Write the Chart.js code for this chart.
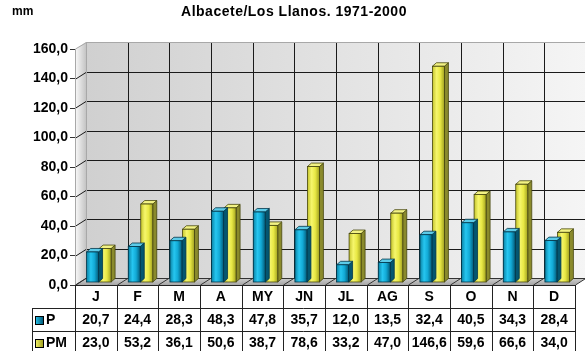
<!DOCTYPE html>
<html>
<head>
<meta charset="utf-8">
<script src="https://cdn.jsdelivr.net/npm/chart.js@4.4.1/dist/chart.umd.min.js"></script>
<style>
  html, body { margin: 0; padding: 0; background: #fff; }
  #chart { display: block; }
</style>
</head>
<body>
<canvas id="chart" width="585" height="351"></canvas>
<script>
const months = ['J', 'F', 'M', 'A', 'MY', 'JN', 'JL', 'AG', 'S', 'O', 'N', 'D'];
const seriesP = [20.7, 24.4, 28.3, 48.3, 47.8, 35.7, 12.0, 13.5, 32.4, 40.5, 34.3, 28.4];
const seriesPM = [23.0, 53.2, 36.1, 50.6, 38.7, 78.6, 33.2, 47.0, 146.6, 59.6, 66.6, 34.0];
const seriesNames = ['P', 'PM'];
const yMax = 160;
const yStep = 20;

const FONT = 'bold 14px "Liberation Sans", Arial, sans-serif';
const fmt = v => v.toFixed(1).replace('.', ',');

// 3D depth of the walls and of the bars
const WALL_DX = 11, WALL_DY = -7;
const BAR_DX = 4, BAR_DY = -3.5;
const BAR_SHIFT_X = 3, BAR_SHIFT_Y = -2.5;

const barStyles = [
  { stops: ['#0a82a4', '#26c6f0', '#12aad6', '#035c7a'], side: '#045670', top: '#5ccbe8', edge: '#02364a' },
  { stops: ['#c4c42c', '#f6f66c', '#e8e844', '#a2a220'], side: '#8a8a2c', top: '#f2f284', edge: '#46460e' }
];

const scenePlugin = {
  id: 'scene',
  beforeDatasetsDraw(chart) {
    const ctx = chart.ctx;
    const a = chart.chartArea;
    const y = chart.scales.y;
    const catW = (a.right - a.left) / months.length;
    ctx.save();

    // back wall
    const wg = ctx.createLinearGradient(a.left + WALL_DX, 0, a.right + WALL_DX, 0);
    wg.addColorStop(0, '#d0d0d0');
    wg.addColorStop(1, '#f5f5f5');
    ctx.fillStyle = wg;
    ctx.fillRect(a.left + WALL_DX, a.top + WALL_DY, a.right - a.left, a.bottom - a.top);

    // left wall
    const lg = ctx.createLinearGradient(a.left, 0, a.left + WALL_DX, 0);
    lg.addColorStop(0, '#fafafa');
    lg.addColorStop(1, '#c4c4c4');
    ctx.fillStyle = lg;
    ctx.beginPath();
    ctx.moveTo(a.left, a.top);
    ctx.lineTo(a.left + WALL_DX, a.top + WALL_DY);
    ctx.lineTo(a.left + WALL_DX, a.bottom + WALL_DY);
    ctx.lineTo(a.left, a.bottom);
    ctx.closePath();
    ctx.fill();

    // floor
    const fg = ctx.createLinearGradient(0, a.bottom + WALL_DY, 0, a.bottom);
    fg.addColorStop(0, '#cfcfcf');
    fg.addColorStop(1, '#a6a6a6');
    ctx.fillStyle = fg;
    ctx.beginPath();
    ctx.moveTo(a.left, a.bottom);
    ctx.lineTo(a.right, a.bottom);
    ctx.lineTo(a.right + WALL_DX, a.bottom + WALL_DY);
    ctx.lineTo(a.left + WALL_DX, a.bottom + WALL_DY);
    ctx.closePath();
    ctx.fill();

    // horizontal grid lines on back wall + left wall
    ctx.lineWidth = 1;
    for (let v = yStep; v < yMax; v += yStep) {
      const py = Math.round(y.getPixelForValue(v)) + 0.5;
      ctx.strokeStyle = '#1a1a1a';
      ctx.beginPath();
      ctx.moveTo(a.left + WALL_DX, py + WALL_DY);
      ctx.lineTo(a.right + WALL_DX, py + WALL_DY);
      ctx.moveTo(a.left, py);
      ctx.lineTo(a.left + WALL_DX, py + WALL_DY);
      ctx.stroke();
    }

    // vertical grid lines on back wall and floor
    ctx.strokeStyle = '#1a1a1a';
    for (let i = 1; i < months.length; i++) {
      const px = Math.round(a.left + i * catW) + 0.5;
      ctx.beginPath();
      ctx.moveTo(px + WALL_DX, a.top + WALL_DY);
      ctx.lineTo(px + WALL_DX, a.bottom + WALL_DY);
      ctx.stroke();
    }
    for (let i = 0; i <= months.length; i++) {
      const px = Math.round(a.left + i * catW) + 0.5;
      ctx.strokeStyle = '#333';
      ctx.beginPath();
      ctx.moveTo(px, a.bottom);
      ctx.lineTo(px + WALL_DX, a.bottom + WALL_DY);
      ctx.stroke();
    }

    // wall outlines
    ctx.strokeStyle = '#a8a8a8';
    ctx.beginPath();
    ctx.moveTo(a.left + 0.5, a.bottom);
    ctx.lineTo(a.left + 0.5, a.top);
    ctx.lineTo(a.left + WALL_DX + 0.5, a.top + WALL_DY + 0.5);
    ctx.lineTo(a.right + WALL_DX, a.top + WALL_DY + 0.5);
    ctx.moveTo(a.left + WALL_DX + 0.5, a.top + WALL_DY);
    ctx.lineTo(a.left + WALL_DX + 0.5, a.bottom + WALL_DY);
    ctx.stroke();
    ctx.strokeStyle = '#333';
    ctx.beginPath();
    ctx.moveTo(a.left, a.bottom + 0.5);
    ctx.lineTo(a.left + WALL_DX, a.bottom + WALL_DY + 0.5);
    ctx.lineTo(a.right + WALL_DX, a.bottom + WALL_DY + 0.5);
    ctx.stroke();

    ctx.restore();
  },

  beforeDatasetDraw(chart, args) {
    const ctx = chart.ctx;
    const st = barStyles[args.index];
    ctx.save();
    args.meta.data.forEach(bar => {
      const w = bar.width;
      const x0 = bar.x - w / 2 + BAR_SHIFT_X;
      const x1 = x0 + w;
      const top = bar.y + BAR_SHIFT_Y;
      const base = bar.base + BAR_SHIFT_Y;
      // side face
      ctx.fillStyle = st.side;
      ctx.beginPath();
      ctx.moveTo(x1, base);
      ctx.lineTo(x1, top);
      ctx.lineTo(x1 + BAR_DX, top + BAR_DY);
      ctx.lineTo(x1 + BAR_DX, base + BAR_DY);
      ctx.closePath();
      ctx.fill();
      ctx.strokeStyle = st.edge;
      ctx.lineWidth = 0.8;
      ctx.stroke();
      // top face
      ctx.fillStyle = st.top;
      ctx.beginPath();
      ctx.moveTo(x0, top);
      ctx.lineTo(x0 + BAR_DX, top + BAR_DY);
      ctx.lineTo(x1 + BAR_DX, top + BAR_DY);
      ctx.lineTo(x1, top);
      ctx.closePath();
      ctx.fill();
      ctx.stroke();
      // front face
      const g = ctx.createLinearGradient(x0, 0, x1, 0);
      g.addColorStop(0, st.stops[0]);
      g.addColorStop(0.35, st.stops[1]);
      g.addColorStop(0.65, st.stops[2]);
      g.addColorStop(1, st.stops[3]);
      ctx.fillStyle = g;
      ctx.fillRect(x0, top, w, base - top);
      ctx.strokeRect(x0, top, w, base - top);
    });
    ctx.restore();
    return false;
  },

  afterDraw(chart) {
    const ctx = chart.ctx;
    const a = chart.chartArea;
    const catW = (a.right - a.left) / months.length;
    ctx.save();

    // titles
    ctx.fillStyle = '#000';
    ctx.textBaseline = 'middle';
    ctx.font = 'bold 12px "Liberation Sans", Arial, sans-serif';
    ctx.textAlign = 'left';
    ctx.fillText('mm', 12, 12);
    ctx.font = 'bold 14px "Liberation Sans", Arial, sans-serif';
    ctx.letterSpacing = '0.5px';
    ctx.textAlign = 'center';
    ctx.fillText('Albacete/Los Llanos. 1971-2000', 294, 12);
    ctx.letterSpacing = '0px';

    // data table
    const rowH = 23;
    const labelLeft = 32;
    const top = a.bottom;
    ctx.fillStyle = '#fff';
    ctx.fillRect(a.left, top + 1, a.right - a.left, rowH);
    ctx.fillRect(labelLeft, top + rowH, a.right - labelLeft, rowH * 2);
    ctx.strokeStyle = '#222';
    ctx.lineWidth = 1;
    ctx.beginPath();
    for (let r = 0; r <= 3; r++) {
      const py = Math.round(top + r * rowH) + 0.5;
      ctx.moveTo(r === 0 ? a.left : labelLeft, py);
      ctx.lineTo(a.right, py);
    }
    for (let i = 0; i <= months.length; i++) {
      const px = Math.round(a.left + i * catW) + 0.5;
      ctx.moveTo(px, top);
      ctx.lineTo(px, top + rowH * 3);
    }
    ctx.moveTo(labelLeft + 0.5, top + rowH);
    ctx.lineTo(labelLeft + 0.5, top + rowH * 3);
    ctx.stroke();

    ctx.font = FONT;
    ctx.fillStyle = '#000';
    ctx.textAlign = 'center';
    months.forEach((m, i) => {
      ctx.fillText(m, a.left + (i + 0.5) * catW, top + rowH / 2 + 1);
    });
    [seriesP, seriesPM].forEach((vals, r) => {
      const cy = top + rowH * (r + 1.5) + 1;
      vals.forEach((v, i) => {
        ctx.fillStyle = '#000';
        ctx.fillText(fmt(v), a.left + (i + 0.5) * catW, cy);
      });
      // legend key
      const st = barStyles[r];
      const g = ctx.createLinearGradient(35, 0, 43, 0);
      g.addColorStop(0, st.stops[1]);
      g.addColorStop(1, st.stops[3]);
      ctx.fillStyle = g;
      ctx.fillRect(35, cy - 4.5, 8, 8);
      ctx.strokeStyle = '#000';
      ctx.strokeRect(35.5, cy - 4, 8, 8);
      ctx.fillStyle = '#000';
      ctx.textAlign = 'left';
      ctx.fillText(seriesNames[r], 46, cy);
      ctx.textAlign = 'center';
    });
    ctx.restore();
  }
};

new Chart(document.getElementById('chart'), {
  type: 'bar',
  data: {
    labels: months,
    datasets: [
      { label: seriesNames[0], data: seriesP },
      { label: seriesNames[1], data: seriesPM }
    ]
  },
  options: {
    responsive: false,
    animation: false,
    events: [],
    layout: { padding: { top: 49, bottom: 66, left: 0, right: 10 } },
    categoryPercentage: 0.6,
    barPercentage: 0.96,
    plugins: {
      legend: { display: false },
      title: { display: false },
      tooltip: { enabled: false }
    },
    scales: {
      x: { display: false },
      y: {
        min: 0,
        max: yMax,
        afterFit(scale) { scale.width = 75; },
        border: { display: false },
        grid: { drawOnChartArea: false, drawTicks: true, tickLength: 5, color: '#333' },
        ticks: {
          stepSize: yStep,
          padding: 2,
          color: '#000',
          font: { family: '"Liberation Sans", Arial, sans-serif', size: 14, weight: 'bold' },
          callback: v => fmt(v)
        }
      }
    }
  },
  plugins: [scenePlugin]
});
</script>
</body>
</html>
